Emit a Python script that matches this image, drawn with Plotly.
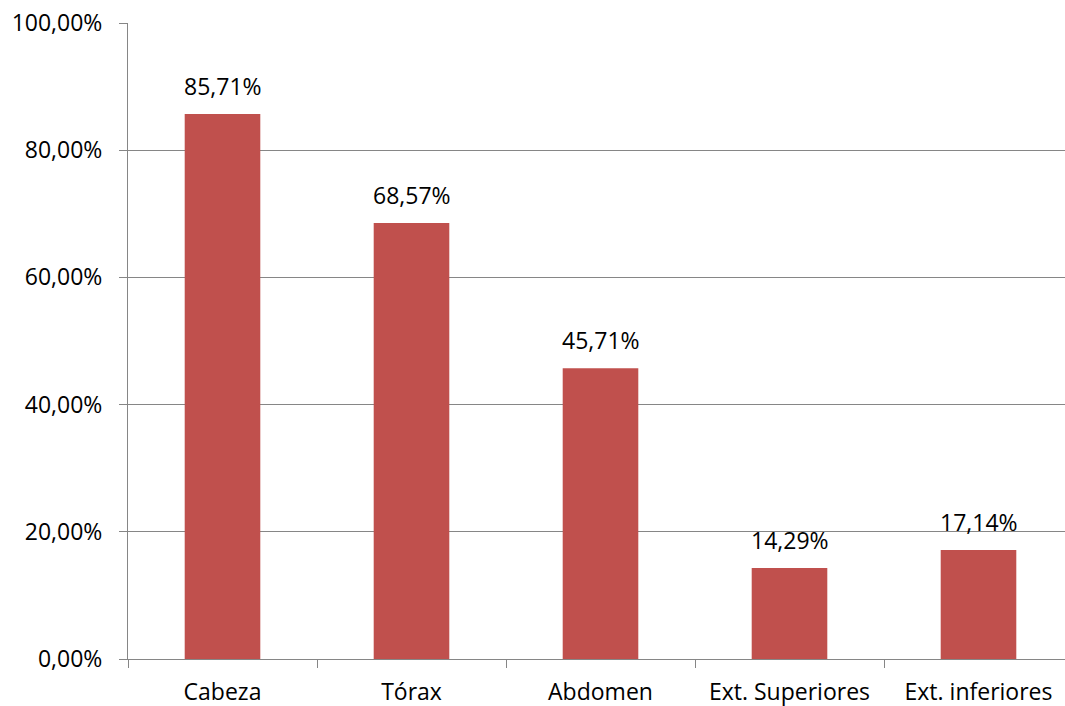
import plotly.graph_objects as go

# Body regions and share of cases (percent)
categories = ["Cabeza", "Tórax", "Abdomen", "Ext. Superiores", "Ext. inferiores"]
values = [85.71, 68.57, 45.71, 14.29, 17.14]
y_ticks = [0, 20, 40, 60, 80, 100]

BAR_COLOR = "#C0504D"
GRID_COLOR = "#868686"
FONT = "Open Sans"
FSIZE = 23

def pct(v):
    return f"{v:.2f}".replace(".", ",") + "%"

fig = go.Figure()
fig.add_trace(go.Bar(
    x=categories,
    y=values,
    width=0.4,
    marker=dict(color=BAR_COLOR, line=dict(width=0)),
    hoverinfo="skip",
))

for c, v in zip(categories, values):
    fig.add_annotation(
        x=c, y=v, text=pct(v), showarrow=False,
        yanchor="bottom", yshift=10,
        font=dict(family=FONT, size=FSIZE, color="#000000"),
    )

fig.update_layout(
    width=1065, height=706,
    margin=dict(l=128, r=0, t=23, b=47),
    paper_bgcolor="white", plot_bgcolor="white",
    showlegend=False,
    font=dict(family=FONT, size=FSIZE, color="#000000"),
)
fig.update_xaxes(
    type="category",
    range=[-0.5, -0.5 + (1065 - 128) / 189.0],
    tickson="boundaries",
    ticks="outside", ticklen=8, tickcolor=GRID_COLOR, tickwidth=1,
    showline=True, linecolor=GRID_COLOR, linewidth=1,
    showgrid=False,
    ticklabelstandoff=12,
    tickfont=dict(family=FONT, size=FSIZE, color="#000000"),
)
fig.update_yaxes(
    range=[0, 100],
    tickvals=y_ticks,
    ticktext=[pct(t) for t in y_ticks],
    ticks="outside", ticklen=8, tickcolor=GRID_COLOR, tickwidth=1,
    showline=True, linecolor=GRID_COLOR, linewidth=1,
    showgrid=True, gridcolor=GRID_COLOR, gridwidth=1,
    zeroline=False,
    ticklabelstandoff=12,
    tickfont=dict(family=FONT, size=FSIZE, color="#000000"),
)

fig.write_html("out.html")
